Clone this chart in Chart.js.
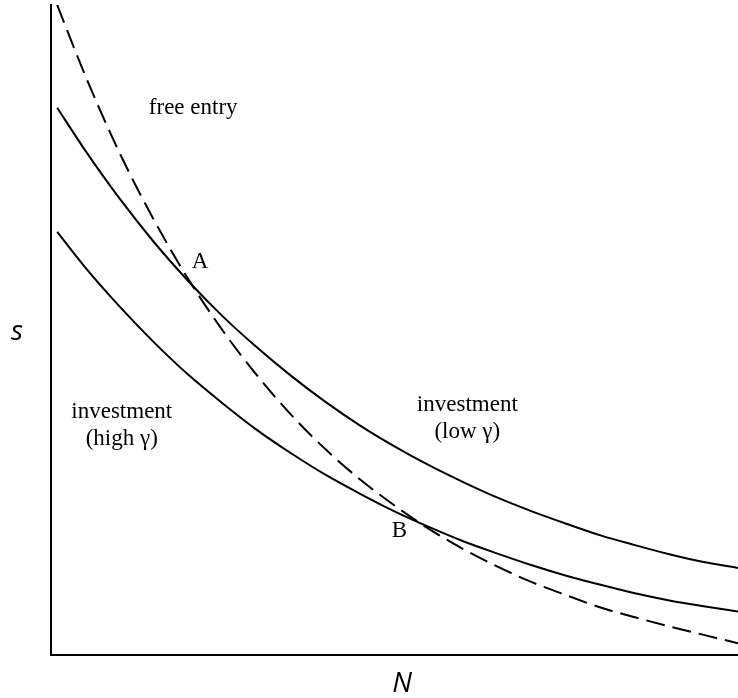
<!DOCTYPE html>
<html>
<head>
<meta charset="utf-8">
<script src="https://cdn.jsdelivr.net/npm/chart.js@4"></script>
<style>
  html, body { margin: 0; padding: 0; background: #fff; }
  #wrap { width: 738px; height: 698px; position: relative; }
</style>
</head>
<body>
<div id="wrap"><canvas id="c" width="738" height="698"></canvas></div>
<script>
// Number of firms N (horizontal), arbitrary units
const firmsN = [0.09, 0.5, 1, 1.5, 2, 2.5, 3, 3.5, 4, 4.5, 5, 5.5, 6, 6.5, 7, 7.5, 8, 8.5, 9, 9.5, 10];

// s along the free-entry condition (dashed)
const freeEntryS = [10.00, 8.91, 7.72, 6.69, 5.78, 4.99, 4.30, 3.69, 3.16, 2.70, 2.30,
                    1.94, 1.63, 1.36, 1.12, 0.92, 0.73, 0.58, 0.44, 0.31, 0.18];
// s along the investment condition, low gamma
const lowGammaS = [8.42, 7.76, 7.02, 6.35, 5.75, 5.21, 4.73, 4.29, 3.89, 3.53, 3.21,
                   2.92, 2.66, 2.42, 2.21, 2.02, 1.84, 1.69, 1.55, 1.43, 1.34];
// s along the investment condition, high gamma
const highGammaS = [6.51, 5.96, 5.36, 4.81, 4.31, 3.87, 3.46, 3.10, 2.77, 2.48, 2.21,
                    1.97, 1.75, 1.56, 1.38, 1.22, 1.08, 0.95, 0.84, 0.75, 0.67];

// Region and point labels placed in data units
const labelTexts = ['free entry', 'A', 'B', 'investment', '(low \u03b3)', 'investment', '(high \u03b3)'];
const labelN     = [2.07, 2.17, 5.07, 6.06, 6.06, 1.03, 1.03];
const labelS     = [8.42, 6.05, 1.91, 3.85, 3.43, 3.74, 3.32];

const toPoints = (xs, ys) => xs.map((x, i) => ({ x: x, y: ys[i] }));

const labelPlugin = {
  id: 'regionLabels',
  afterDatasetsDraw(chart) {
    const { ctx, scales: { x, y } } = chart;
    ctx.save();
    ctx.fillStyle = '#000';
    ctx.font = '23px "Liberation Serif", "Times New Roman", serif';
    ctx.textAlign = 'center';
    ctx.textBaseline = 'middle';
    labelTexts.forEach((t, i) => {
      ctx.fillText(t, x.getPixelForValue(labelN[i]), y.getPixelForValue(labelS[i]));
    });
    // axis titles
    ctx.font = 'italic 28px "Open Sans", sans-serif';
    ctx.fillText('s', 17, 332);
    ctx.fillText('N', 402, 684);
    ctx.restore();
  }
};

const zeroWidth = (scale) => { scale.width = 0; };
const zeroHeight = (scale) => { scale.height = 0; };

const curve = (label, ys, dash) => ({
  label: label,
  data: toPoints(firmsN, ys),
  borderColor: '#000',
  borderWidth: 2,
  borderDash: dash,
  pointRadius: 0,
  cubicInterpolationMode: 'monotone',
  fill: false
});

new Chart(document.getElementById('c'), {
  type: 'line',
  data: {
    datasets: [
      curve('free entry', freeEntryS, [19, 8]),
      curve('investment (low \u03b3)', lowGammaS, []),
      curve('investment (high \u03b3)', highGammaS, [])
    ]
  },
  options: {
    responsive: false,
    animation: false,
    devicePixelRatio: 1,
    layout: { padding: { left: 51, top: 5, right: 0, bottom: 43 } },
    plugins: { legend: { display: false }, tooltip: { enabled: false } },
    scales: {
      x: {
        type: 'linear', min: 0, max: 10,
        grid: { display: false, drawTicks: false },
        ticks: { display: false },
        border: { display: true, color: '#000', width: 2 },
        afterFit: zeroHeight
      },
      y: {
        type: 'linear', min: 0, max: 10,
        grid: { display: false, drawTicks: false },
        ticks: { display: false },
        border: { display: true, color: '#000', width: 2 },
        afterFit: zeroWidth
      }
    }
  },
  plugins: [labelPlugin]
});
</script>
</body>
</html>
